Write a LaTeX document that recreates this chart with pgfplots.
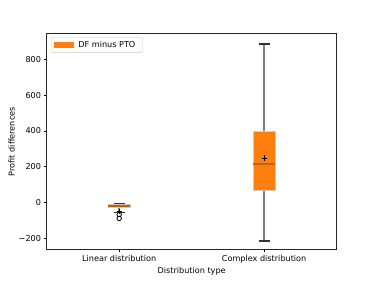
\documentclass[border=0pt]{standalone}
\usepackage{pgfplots}
\pgfplotsset{compat=1.18}
\usepackage{fontspec}
\setmainfont{DejaVu Sans}
\definecolor{boxorange}{HTML}{FF7F0E}
\definecolor{medorange}{HTML}{C2600A}
\definecolor{whiskgray}{HTML}{7F7F7F}
\begin{document}
\begin{tikzpicture}
\useasboundingbox (0,0) rectangle (460.8pt,345.6pt);
\begin{axis}[
  at={(57.6pt,38.0pt)}, anchor=south west,
  scale only axis, width=357.1pt, height=266.1pt,
  xmin=0.5, xmax=2.5, ymin=-265, ymax=945,
  xtick={1,2}, xticklabels={Linear distribution, Complex distribution},
  ytick={-200,0,200,400,600,800},
  yticklabels={{\char"2212 200},0,200,400,600,800},
  tick align=outside, tick pos=left,
  major tick length=3.5pt,
  every tick/.style={black, line width=0.8pt},
  axis line style={line width=0.8pt, black!85},
  tick label style={font=\fontsize{10}{12}\selectfont},
  label style={font=\fontsize{10}{12}\selectfont},
  xlabel={Distribution type}, ylabel={Profit differences},
  xlabel style={yshift=2pt},
  ylabel style={yshift=-2pt},
  legend style={font=\fontsize{10}{12}\selectfont, draw=black!20, rounded corners=2pt, fill=white, inner sep=3pt, at={(0.015,0.985)}, anchor=north west,
    nodes={inner xsep=6pt}},
  legend image code/.code={\fill[boxorange, sharp corners] (0pt,-3.3pt) rectangle (24pt,3.3pt);},
]
\addlegendimage{fill=boxorange}
\addlegendentry{DF minus PTO}
% Linear distribution: whiskers
\addplot[whiskgray, line width=2pt, forget plot] coordinates {(1,-7) (1,-13)};
\addplot[whiskgray, line width=2pt, forget plot] coordinates {(1,-30) (1,-56)};
% box
\addplot[fill=boxorange, draw=white!80!black, line width=0.6pt, forget plot] coordinates {(0.925,-30) (1.075,-30) (1.075,-13) (0.925,-13)} -- cycle;
\addplot[medorange, line width=2pt, forget plot] coordinates {(0.925,-22) (1.075,-22)};
% Complex distribution: whiskers
\addplot[whiskgray, line width=2pt, forget plot] coordinates {(2,888) (2,400)};
\addplot[whiskgray, line width=2pt, forget plot] coordinates {(2,68) (2,-216)};
\addplot[fill=boxorange, draw=white!80!black, line width=0.6pt, forget plot] coordinates {(1.925,68) (2.075,68) (2.075,400) (1.925,400)} -- cycle;
\addplot[medorange, line width=2pt, forget plot] coordinates {(1.925,216) (2.075,216)};
% whisker caps
\addplot[black!80, line width=1.6pt, forget plot] coordinates {(0.9625,-7) (1.0375,-7)};
\addplot[black!80, line width=1.6pt, forget plot] coordinates {(0.9625,-56) (1.0375,-56)};
\addplot[black!80, line width=1.6pt, forget plot] coordinates {(1.9625,888) (2.0375,888)};
\addplot[black!80, line width=1.6pt, forget plot] coordinates {(1.9625,-216) (2.0375,-216)};
% outliers
\addplot[only marks, mark=o, mark size=2.8pt, black, line width=1pt, forget plot] coordinates {(1,-68) (1,-90)};
% means
\addplot[only marks, mark=+, mark size=3.2pt, black, line width=1pt, forget plot] coordinates {(1,-50) (2,248)};
\end{axis}
\end{tikzpicture}
\end{document}
